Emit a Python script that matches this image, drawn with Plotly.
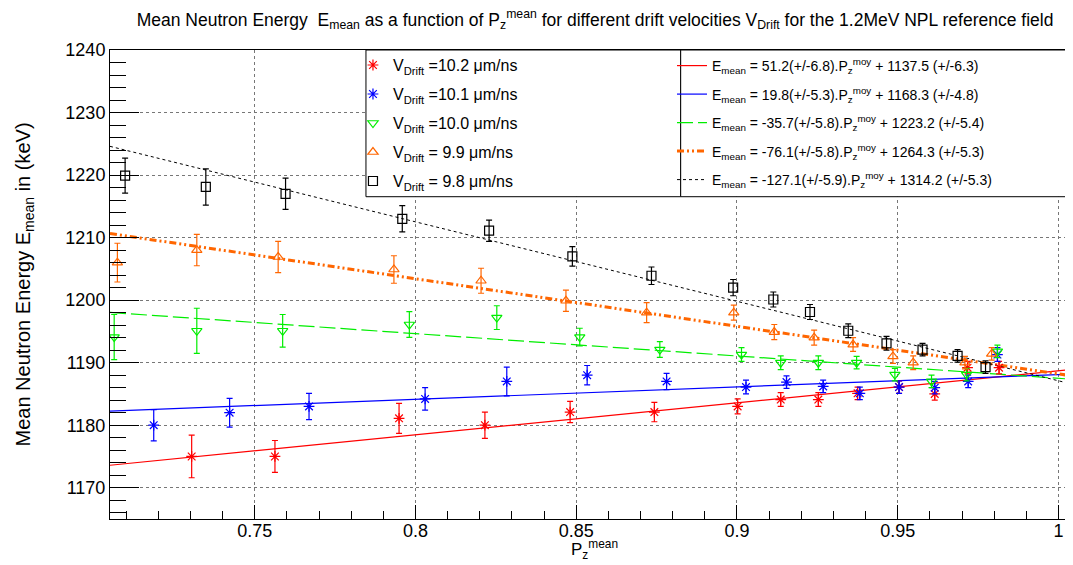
import plotly.graph_objects as go

# ---------------- data ----------------
x_102 = [0.7304, 0.7563, 0.7949, 0.8216, 0.8481, 0.8743, 0.9002, 0.9136, 0.9253, 0.9375, 0.9504, 0.9615, 0.9717, 0.9815]
y_102 = [1175.0, 1175.0, 1181.1, 1180.0, 1182.1, 1182.1, 1183.0, 1184.1, 1184.1, 1185.1, 1186.1, 1185.0, 1189.2, 1189.2]
e_102 = [3.4, 2.55, 2.4, 2.1, 1.7, 1.55, 1.2, 1.1, 1.1, 1.0, 1.0, 1.0, 1.0, 1.0]

x_101 = [0.7186, 0.7422, 0.7669, 0.8030, 0.8284, 0.8534, 0.8781, 0.9028, 0.9154, 0.9268, 0.9382, 0.9504, 0.9615, 0.9719, 0.9810]
y_101 = [1180.0, 1182.0, 1183.0, 1184.2, 1187.0, 1188.0, 1187.0, 1186.1, 1186.9, 1186.2, 1185.1, 1186.1, 1186.0, 1187.0, 1191.3]
e_101 = [2.5, 2.3, 2.1, 1.8, 2.3, 1.55, 1.3, 1.1, 1.0, 1.0, 1.0, 1.0, 1.0, 1.0, 1.1]

x_100 = [0.7063, 0.7320, 0.7587, 0.7981, 0.8253, 0.8511, 0.8760, 0.9014, 0.9136, 0.9253, 0.9372, 0.9491, 0.9605, 0.9714, 0.9810]
y_100 = [1194.1, 1195.1, 1195.1, 1196.1, 1197.2, 1194.1, 1192.1, 1191.3, 1190.0, 1190.0, 1190.0, 1188.1, 1187.0, 1188.1, 1191.8]
e_100 = [3.6, 3.6, 2.6, 2.05, 1.9, 1.4, 1.25, 1.1, 1.1, 1.1, 1.0, 1.0, 1.0, 1.0, 1.0]

x_099 = [0.7073, 0.7320, 0.7573, 0.7933, 0.8204, 0.8468, 0.8719, 0.8990, 0.9116, 0.9240, 0.9361, 0.9485, 0.9548, 0.9709, 0.9792]
y_099 = [1206.0, 1208.0, 1206.9, 1204.9, 1203.1, 1199.9, 1198.0, 1198.0, 1194.9, 1194.0, 1192.9, 1191.0, 1190.0, 1190.0, 1191.4]
e_099 = [3.1, 2.5, 2.5, 2.2, 2.0, 1.7, 1.6, 1.2, 1.2, 1.2, 1.1, 1.1, 1.1, 1.0, 1.0]

x_098 = [0.7097, 0.7348, 0.7596, 0.7959, 0.8229, 0.8488, 0.8734, 0.8988, 0.9113, 0.9227, 0.9346, 0.9465, 0.9577, 0.9686, 0.9773]
y_098 = [1219.9, 1218.1, 1217.0, 1213.0, 1211.1, 1207.0, 1203.9, 1202.0, 1200.1, 1198.1, 1195.1, 1193.1, 1192.1, 1191.1, 1189.3]
e_098 = [2.8, 2.9, 2.5, 2.1, 1.7, 1.55, 1.4, 1.3, 1.2, 1.2, 1.1, 1.1, 1.0, 1.0, 1.0]

series_labels = ["V<sub>Drift</sub> =10.2 μm/ns", "V<sub>Drift</sub> =10.1 μm/ns",
                 "V<sub>Drift</sub> =10.0 μm/ns", "V<sub>Drift</sub> = 9.9 μm/ns",
                 "V<sub>Drift</sub> = 9.8 μm/ns"]

fit_slope = [51.2, 19.8, -35.7, -76.1, -127.1]
fit_slope_err = [6.8, 5.3, 5.8, 5.8, 5.9]
fit_intercept = [1137.5, 1168.3, 1223.2, 1264.3, 1314.2]
fit_intercept_err = [6.3, 4.8, 5.4, 5.3, 5.3]

x_range = [0.705, 1.0045]
y_range = [1165, 1240]

# ---------------- styles ----------------
colors = ["#ff0000", "#0000ff", "#00ee00", "#ff6600", "#000000"]
symbols = ["asterisk-open", "asterisk-open", "triangle-down-open", "triangle-up-open", "square-open"]
fit_dash = ["solid", "solid", "16px,5px", "7px,3px,2px,3px,2px,3px", "3px,3px"]
fit_width = [1.2, 1.2, 1.2, 3, 1]
FONT = "Liberation Sans, Arial, Helvetica, sans-serif"

xs = [x_102, x_101, x_100, x_099, x_098]
ys = [y_102, y_101, y_100, y_099, y_098]
es = [e_102, e_101, e_100, e_099, e_098]

fig = go.Figure()

# fit lines
for i in range(5):
    xl = list(x_range)
    yl = [fit_slope[i] * v + fit_intercept[i] for v in xl]
    name = (f"E<sub>mean</sub> = {fit_slope[i]}(+/-{fit_slope_err[i]}).P<sub>z</sub><sup>moy</sup>"
            f" + {fit_intercept[i]} (+/-{fit_intercept_err[i]})")
    fig.add_trace(go.Scatter(
        x=xl, y=yl, mode="lines", name=name,
        line=dict(color=colors[i], width=fit_width[i], dash=fit_dash[i]),
        legend="legend2", legendgroup=f"f{i}", legendrank=i + 1,
        hoverinfo="skip"))

# data points
for i in range(5):
    fig.add_trace(go.Scatter(
        x=xs[i], y=ys[i], mode="markers", name=series_labels[i],
        marker=dict(symbol=symbols[i], size=9, color=colors[i],
                    line=dict(color=colors[i], width=1.2)),
        error_y=dict(type="data", array=es[i], color=colors[i], thickness=1.2, width=3),
        legend="legend", legendgroup=f"d{i}", legendrank=i + 1))

# legend boxes (opaque, like ROOT TLegend)
shapes = [
    dict(type="rect", xref="paper", yref="paper", x0=0.2658, x1=0.5926, y0=0.6872, y1=1.0,
         fillcolor="white", line=dict(color="black", width=1), layer="above"),
    dict(type="rect", xref="paper", yref="paper", x0=0.5926, x1=1.02, y0=0.6872, y1=1.0,
         fillcolor="white", line=dict(color="black", width=1), layer="above"),
]

fig.update_layout(
    width=1065, height=557, autosize=False,
    margin=dict(l=102, r=0, t=42, b=46),
    paper_bgcolor="white", plot_bgcolor="white",
    font=dict(family=FONT, color="black"),
    shapes=shapes,
    title=dict(
        text="Mean Neutron Energy  E<sub>mean</sub> as a function of P<sub>z</sub><sup>mean</sup> "
             "for different drift velocities V<sub>Drift</sub> for the 1.2MeV NPL reference field",
        x=0.5512, xanchor="center", xref="container",
        y=0.979, yanchor="middle", yref="container",
        font=dict(size=17.5, family=FONT, color="black")),
    xaxis=dict(range=x_range, dtick=0.05, tick0=0, ticks="inside", ticklen=14, tickwidth=1,
               tickcolor="black", showline=True, linecolor="black", linewidth=1, mirror=True,
               showgrid=True, gridcolor="#777", griddash="dot", gridwidth=1, zeroline=False,
               tickfont=dict(size=18, family=FONT), ticklabelstandoff=-5,
               minor=dict(dtick=0.01, ticks="inside", ticklen=8, tickcolor="black", showgrid=False)),
    yaxis=dict(range=y_range, dtick=10, tick0=0, ticks="inside", ticklen=29, tickwidth=1,
               tickcolor="black", showline=True, linecolor="black", linewidth=1, mirror=False,
               showgrid=True, gridcolor="#777", griddash="dot", gridwidth=1, zeroline=False,
               tickfont=dict(size=18, family=FONT),
               minor=dict(dtick=2, ticks="inside", ticklen=16, tickcolor="black", showgrid=False)),
    legend=dict(x=0.2523, y=1.004, xanchor="left", yanchor="top", xref="paper", yref="paper",
                bgcolor="rgba(0,0,0,0)", borderwidth=0, font=dict(size=16, family=FONT),
                tracegroupgap=5.2, itemsizing="trace", traceorder="grouped"),
    legend2=dict(x=0.5836, y=1.0, xanchor="left", yanchor="top", xref="paper", yref="paper",
                 bgcolor="rgba(0,0,0,0)", borderwidth=0, font=dict(size=14, family=FONT),
                 tracegroupgap=7.3, itemsizing="trace", traceorder="grouped", itemwidth=30),
    annotations=[
        dict(text="Mean Neutron Energy E<sub>mean</sub> in (keV)", textangle=-90,
             xref="paper", yref="paper", x=-0.0893, y=0.5, xanchor="center", yanchor="middle",
             showarrow=False, font=dict(size=20, family=FONT)),
        dict(text="P<sub>z</sub><sup>mean</sup>", xref="paper", yref="paper",
             x=0.5030, y=-0.0655, xanchor="center", yanchor="middle",
             showarrow=False, font=dict(size=17, family=FONT)),
    ],
)

fig.write_html("out.html")
